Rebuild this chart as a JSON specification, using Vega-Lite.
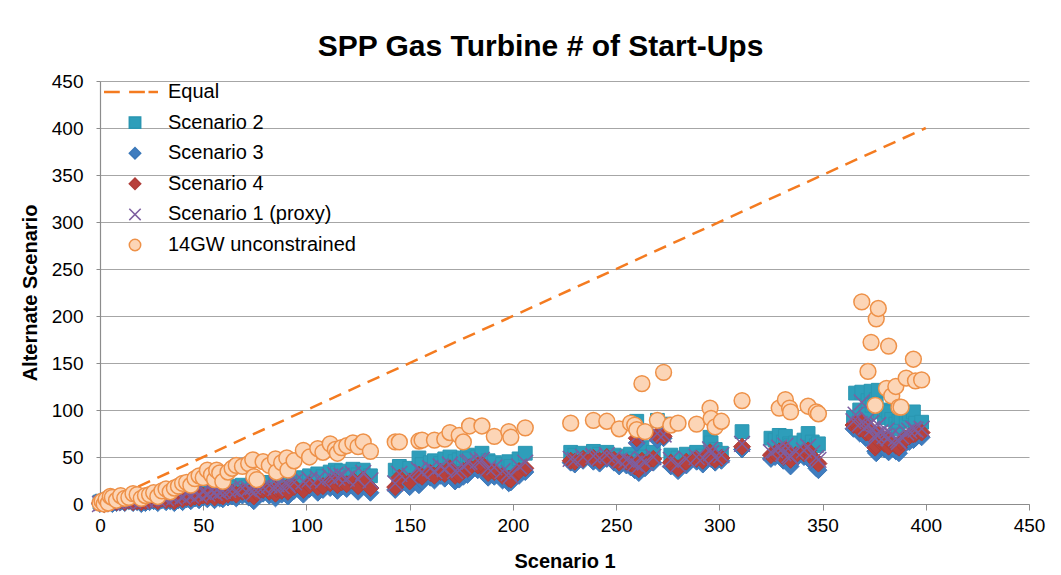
{
  "$schema": "https://vega.github.io/schema/vega-lite/v6.json",
  "width": 929,
  "height": 423,
  "autosize": {"type": "none"},
  "padding": {"left": 100, "top": 81, "right": 32, "bottom": 71},
  "background": "white",
  "title": {"text": "SPP Gas Turbine # of Start-Ups", "font": "Liberation Sans", "fontSize": 30, "fontWeight": "bold", "color": "#000000", "anchor": "middle", "dx": -24, "offset": 10},
  "config": {
    "view": {"stroke": null},
    "font": "Liberation Sans",
    "axis": {"labelFont": "Liberation Sans", "labelFontSize": 19, "labelColor": "#000000", "labelFlush": false, "labelOverlap": false, "titleFont": "Liberation Sans", "titleFontSize": 20, "titleFontWeight": "bold", "titleColor": "#000000", "domainColor": "#8c8c8c", "tickColor": "#8c8c8c", "gridColor": "#a6a6a6", "domainWidth": 1.2, "gridWidth": 1.2},
    "legend": {"orient": "top-left", "offset": 1, "padding": 0, "labelFont": "Liberation Sans", "labelFontSize": 20, "labelColor": "#000000", "labelLimit": 500, "symbolSize": 130, "symbolStrokeWidth": 1.5, "rowPadding": 10.6, "labelOffset": 23, "symbolOffset": 24}
  },
  "datasets": {
    "eq": [{"x": 0, "Equal": 0}, {"x": 400, "Equal": 400}],
    "pts": [
      {"x": 0, "Scenario 2": 2, "Scenario 3": 0, "Scenario 4": 1, "Scenario 1 (proxy)": 0, "14GW unconstrained": 1},
      {"x": 1, "Scenario 2": 3, "Scenario 3": 1, "Scenario 4": 2, "Scenario 1 (proxy)": 1, "14GW unconstrained": 3},
      {"x": 2, "Scenario 2": 1, "Scenario 3": 0, "Scenario 4": 0, "Scenario 1 (proxy)": 2, "14GW unconstrained": 0},
      {"x": 3, "Scenario 2": 4, "Scenario 3": 2, "Scenario 4": 3, "Scenario 1 (proxy)": 2, "14GW unconstrained": 5},
      {"x": 4, "Scenario 2": 2, "Scenario 3": 1, "Scenario 4": 1, "Scenario 1 (proxy)": 3, "14GW unconstrained": 1},
      {"x": 5, "Scenario 2": 5, "Scenario 3": 2, "Scenario 4": 3, "Scenario 1 (proxy)": 4, "14GW unconstrained": 8},
      {"x": 6, "Scenario 2": 3, "Scenario 3": 0, "Scenario 4": 2, "Scenario 1 (proxy)": 1, "14GW unconstrained": 7},
      {"x": 8, "Scenario 2": 4, "Scenario 3": 1, "Scenario 4": 2, "Scenario 1 (proxy)": 3, "14GW unconstrained": 4},
      {"x": 10, "Scenario 2": 6, "Scenario 3": 2, "Scenario 4": 4, "Scenario 1 (proxy)": 5, "14GW unconstrained": 9},
      {"x": 12, "Scenario 2": 5, "Scenario 3": 1, "Scenario 4": 2, "Scenario 1 (proxy)": 3, "14GW unconstrained": 6},
      {"x": 14, "Scenario 2": 6, "Scenario 3": 3, "Scenario 4": 4, "Scenario 1 (proxy)": 5, "14GW unconstrained": 7},
      {"x": 16, "Scenario 2": 4, "Scenario 3": 1, "Scenario 4": 2, "Scenario 1 (proxy)": 4, "14GW unconstrained": 11},
      {"x": 18, "Scenario 2": 7, "Scenario 3": 2, "Scenario 4": 3, "Scenario 1 (proxy)": 6, "14GW unconstrained": 10},
      {"x": 20, "Scenario 2": 5, "Scenario 3": 0, "Scenario 4": 2, "Scenario 1 (proxy)": 3, "14GW unconstrained": 6},
      {"x": 22, "Scenario 2": 8, "Scenario 3": 1, "Scenario 4": 3, "Scenario 1 (proxy)": 5, "14GW unconstrained": 9},
      {"x": 24, "Scenario 2": 6, "Scenario 3": 2, "Scenario 4": 4, "Scenario 1 (proxy)": 6, "14GW unconstrained": 10},
      {"x": 26, "Scenario 2": 9, "Scenario 3": 3, "Scenario 4": 5, "Scenario 1 (proxy)": 7, "14GW unconstrained": 12},
      {"x": 28, "Scenario 2": 7, "Scenario 3": 1, "Scenario 4": 3, "Scenario 1 (proxy)": 5, "14GW unconstrained": 8},
      {"x": 30, "Scenario 2": 10, "Scenario 3": 4, "Scenario 4": 6, "Scenario 1 (proxy)": 8, "14GW unconstrained": 14},
      {"x": 32, "Scenario 2": 8, "Scenario 3": 2, "Scenario 4": 4, "Scenario 1 (proxy)": 6, "14GW unconstrained": 16},
      {"x": 34, "Scenario 2": 11, "Scenario 3": 3, "Scenario 4": 5, "Scenario 1 (proxy)": 9, "14GW unconstrained": 13},
      {"x": 36, "Scenario 2": 9, "Scenario 3": 1, "Scenario 4": 3, "Scenario 1 (proxy)": 7, "14GW unconstrained": 17},
      {"x": 38, "Scenario 2": 12, "Scenario 3": 4, "Scenario 4": 6, "Scenario 1 (proxy)": 10, "14GW unconstrained": 19},
      {"x": 40, "Scenario 2": 10, "Scenario 3": 2, "Scenario 4": 5, "Scenario 1 (proxy)": 8, "14GW unconstrained": 22},
      {"x": 42, "Scenario 2": 13, "Scenario 3": 5, "Scenario 4": 7, "Scenario 1 (proxy)": 11, "14GW unconstrained": 23},
      {"x": 44, "Scenario 2": 11, "Scenario 3": 3, "Scenario 4": 6, "Scenario 1 (proxy)": 9, "14GW unconstrained": 20},
      {"x": 46, "Scenario 2": 14, "Scenario 3": 6, "Scenario 4": 8, "Scenario 1 (proxy)": 12, "14GW unconstrained": 27},
      {"x": 48, "Scenario 2": 12, "Scenario 3": 4, "Scenario 4": 7, "Scenario 1 (proxy)": 10, "14GW unconstrained": 30},
      {"x": 50, "Scenario 2": 15, "Scenario 3": 7, "Scenario 4": 9, "Scenario 1 (proxy)": 13, "14GW unconstrained": 28},
      {"x": 52, "Scenario 2": 13, "Scenario 3": 5, "Scenario 4": 8, "Scenario 1 (proxy)": 11, "14GW unconstrained": 36},
      {"x": 54, "Scenario 2": 16, "Scenario 3": 8, "Scenario 4": 10, "Scenario 1 (proxy)": 14, "14GW unconstrained": 31},
      {"x": 55.5, "Scenario 2": 14, "Scenario 3": 4, "Scenario 4": 7, "Scenario 1 (proxy)": 12, "14GW unconstrained": 26},
      {"x": 56.5, "Scenario 2": 17, "Scenario 3": 9, "Scenario 4": 11, "Scenario 1 (proxy)": 15, "14GW unconstrained": 36},
      {"x": 58, "Scenario 2": 15, "Scenario 3": 6, "Scenario 4": 9, "Scenario 1 (proxy)": 13, "14GW unconstrained": 33},
      {"x": 59.5, "Scenario 2": 18, "Scenario 3": 5, "Scenario 4": 8, "Scenario 1 (proxy)": 14, "14GW unconstrained": 24},
      {"x": 62, "Scenario 2": 16, "Scenario 3": 7, "Scenario 4": 10, "Scenario 1 (proxy)": 15, "14GW unconstrained": 34},
      {"x": 64, "Scenario 2": 19, "Scenario 3": 8, "Scenario 4": 12, "Scenario 1 (proxy)": 16, "14GW unconstrained": 38},
      {"x": 66, "Scenario 2": 17, "Scenario 3": 6, "Scenario 4": 10, "Scenario 1 (proxy)": 14, "14GW unconstrained": 41},
      {"x": 69, "Scenario 2": 20, "Scenario 3": 9, "Scenario 4": 13, "Scenario 1 (proxy)": 17, "14GW unconstrained": 40},
      {"x": 72, "Scenario 2": 18, "Scenario 3": 7, "Scenario 4": 11, "Scenario 1 (proxy)": 16, "14GW unconstrained": 43},
      {"x": 74, "Scenario 2": 21, "Scenario 3": 10, "Scenario 4": 14, "Scenario 1 (proxy)": 18, "14GW unconstrained": 47},
      {"x": 74.5, "Scenario 2": 16, "Scenario 3": 3, "Scenario 4": 8, "Scenario 1 (proxy)": 12, "14GW unconstrained": 29},
      {"x": 76, "Scenario 2": 22, "Scenario 3": 8, "Scenario 4": 12, "Scenario 1 (proxy)": 19, "14GW unconstrained": 26},
      {"x": 79, "Scenario 2": 20, "Scenario 3": 11, "Scenario 4": 15, "Scenario 1 (proxy)": 18, "14GW unconstrained": 45},
      {"x": 82, "Scenario 2": 23, "Scenario 3": 9, "Scenario 4": 13, "Scenario 1 (proxy)": 20, "14GW unconstrained": 41},
      {"x": 85, "Scenario 2": 21, "Scenario 3": 6, "Scenario 4": 11, "Scenario 1 (proxy)": 17, "14GW unconstrained": 48},
      {"x": 85.5, "Scenario 2": 24, "Scenario 3": 12, "Scenario 4": 16, "Scenario 1 (proxy)": 21, "14GW unconstrained": 34},
      {"x": 88, "Scenario 2": 22, "Scenario 3": 10, "Scenario 4": 14, "Scenario 1 (proxy)": 19, "14GW unconstrained": 44},
      {"x": 90.5, "Scenario 2": 25, "Scenario 3": 13, "Scenario 4": 17, "Scenario 1 (proxy)": 22, "14GW unconstrained": 49},
      {"x": 91, "Scenario 2": 23, "Scenario 3": 8, "Scenario 4": 13, "Scenario 1 (proxy)": 20, "14GW unconstrained": 36},
      {"x": 94, "Scenario 2": 26, "Scenario 3": 14, "Scenario 4": 18, "Scenario 1 (proxy)": 23, "14GW unconstrained": 46},
      {"x": 98.5, "Scenario 2": 28, "Scenario 3": 10, "Scenario 4": 15, "Scenario 1 (proxy)": 24, "14GW unconstrained": 57},
      {"x": 101.5, "Scenario 2": 30, "Scenario 3": 16, "Scenario 4": 20, "Scenario 1 (proxy)": 26, "14GW unconstrained": 50},
      {"x": 105.5, "Scenario 2": 32, "Scenario 3": 12, "Scenario 4": 18, "Scenario 1 (proxy)": 27, "14GW unconstrained": 59},
      {"x": 108, "Scenario 2": 29, "Scenario 3": 15, "Scenario 4": 19, "Scenario 1 (proxy)": 25, "14GW unconstrained": 55},
      {"x": 111.5, "Scenario 2": 34, "Scenario 3": 17, "Scenario 4": 22, "Scenario 1 (proxy)": 29, "14GW unconstrained": 64},
      {"x": 114, "Scenario 2": 36, "Scenario 3": 20, "Scenario 4": 24, "Scenario 1 (proxy)": 31, "14GW unconstrained": 58},
      {"x": 115, "Scenario 2": 33, "Scenario 3": 14, "Scenario 4": 20, "Scenario 1 (proxy)": 28, "14GW unconstrained": 54},
      {"x": 117, "Scenario 2": 35, "Scenario 3": 18, "Scenario 4": 23, "Scenario 1 (proxy)": 30, "14GW unconstrained": 60},
      {"x": 119.5, "Scenario 2": 30, "Scenario 3": 16, "Scenario 4": 21, "Scenario 1 (proxy)": 27, "14GW unconstrained": 62},
      {"x": 122.5, "Scenario 2": 37, "Scenario 3": 19, "Scenario 4": 25, "Scenario 1 (proxy)": 32, "14GW unconstrained": 65},
      {"x": 125, "Scenario 2": 31, "Scenario 3": 13, "Scenario 4": 19, "Scenario 1 (proxy)": 26, "14GW unconstrained": 61},
      {"x": 127.5, "Scenario 2": 36, "Scenario 3": 21, "Scenario 4": 26, "Scenario 1 (proxy)": 33, "14GW unconstrained": 66},
      {"x": 131, "Scenario 2": 30, "Scenario 3": 12, "Scenario 4": 17, "Scenario 1 (proxy)": 25, "14GW unconstrained": 56},
      {"x": 143, "Scenario 2": 36, "Scenario 3": 15, "Scenario 4": 18, "Scenario 1 (proxy)": 22, "14GW unconstrained": 66},
      {"x": 145, "Scenario 2": 40, "Scenario 3": 22, "Scenario 4": 28, "Scenario 1 (proxy)": 32, "14GW unconstrained": 66},
      {"x": 150, "Scenario 2": 38, "Scenario 3": 18, "Scenario 4": 24, "Scenario 1 (proxy)": 30, "14GW unconstrained": null},
      {"x": 154.5, "Scenario 2": 49, "Scenario 3": 20, "Scenario 4": 31, "Scenario 1 (proxy)": 36, "14GW unconstrained": 67},
      {"x": 156, "Scenario 2": 42, "Scenario 3": 24, "Scenario 4": 29, "Scenario 1 (proxy)": 34, "14GW unconstrained": 68},
      {"x": 160, "Scenario 2": 44, "Scenario 3": 28, "Scenario 4": 33, "Scenario 1 (proxy)": 38, "14GW unconstrained": null},
      {"x": 162, "Scenario 2": 46, "Scenario 3": 25, "Scenario 4": 30, "Scenario 1 (proxy)": 35, "14GW unconstrained": 68},
      {"x": 165, "Scenario 2": 43, "Scenario 3": 30, "Scenario 4": 34, "Scenario 1 (proxy)": 40, "14GW unconstrained": null},
      {"x": 167, "Scenario 2": 48, "Scenario 3": 27, "Scenario 4": 32, "Scenario 1 (proxy)": 37, "14GW unconstrained": 69},
      {"x": 169.5, "Scenario 2": 50, "Scenario 3": 32, "Scenario 4": 38, "Scenario 1 (proxy)": 42, "14GW unconstrained": 76},
      {"x": 172, "Scenario 2": 45, "Scenario 3": 24, "Scenario 4": 30, "Scenario 1 (proxy)": 35, "14GW unconstrained": null},
      {"x": 174, "Scenario 2": 47, "Scenario 3": 26, "Scenario 4": 31, "Scenario 1 (proxy)": 36, "14GW unconstrained": 73},
      {"x": 176, "Scenario 2": 49, "Scenario 3": 29, "Scenario 4": 35, "Scenario 1 (proxy)": 40, "14GW unconstrained": 66},
      {"x": 178, "Scenario 2": 52, "Scenario 3": 31, "Scenario 4": 37, "Scenario 1 (proxy)": 44, "14GW unconstrained": null},
      {"x": 179, "Scenario 2": 48, "Scenario 3": 34, "Scenario 4": 39, "Scenario 1 (proxy)": 45, "14GW unconstrained": 83},
      {"x": 183, "Scenario 2": 50, "Scenario 3": 36, "Scenario 4": 41, "Scenario 1 (proxy)": 46, "14GW unconstrained": null},
      {"x": 185, "Scenario 2": 54, "Scenario 3": 38, "Scenario 4": 42, "Scenario 1 (proxy)": 47, "14GW unconstrained": 83},
      {"x": 188, "Scenario 2": 46, "Scenario 3": 28, "Scenario 4": 33, "Scenario 1 (proxy)": 38, "14GW unconstrained": null},
      {"x": 191, "Scenario 2": 44, "Scenario 3": 29, "Scenario 4": 34, "Scenario 1 (proxy)": 39, "14GW unconstrained": 72},
      {"x": 195, "Scenario 2": 42, "Scenario 3": 25, "Scenario 4": 30, "Scenario 1 (proxy)": 35, "14GW unconstrained": null},
      {"x": 198, "Scenario 2": 45, "Scenario 3": 22, "Scenario 4": 27, "Scenario 1 (proxy)": 33, "14GW unconstrained": 77},
      {"x": 199, "Scenario 2": 40, "Scenario 3": 23, "Scenario 4": 26, "Scenario 1 (proxy)": 30, "14GW unconstrained": 71},
      {"x": 203, "Scenario 2": 48, "Scenario 3": 30, "Scenario 4": 35, "Scenario 1 (proxy)": 40, "14GW unconstrained": null},
      {"x": 206, "Scenario 2": 54, "Scenario 3": 34, "Scenario 4": 38, "Scenario 1 (proxy)": 44, "14GW unconstrained": 81},
      {"x": 228, "Scenario 2": 55, "Scenario 3": 44, "Scenario 4": 46, "Scenario 1 (proxy)": 48, "14GW unconstrained": 86},
      {"x": 230, "Scenario 2": 52, "Scenario 3": 42, "Scenario 4": 45, "Scenario 1 (proxy)": 47, "14GW unconstrained": null},
      {"x": 234, "Scenario 2": 54, "Scenario 3": 46, "Scenario 4": 48, "Scenario 1 (proxy)": 50, "14GW unconstrained": null},
      {"x": 239, "Scenario 2": 56, "Scenario 3": 45, "Scenario 4": 49, "Scenario 1 (proxy)": 51, "14GW unconstrained": 89},
      {"x": 242, "Scenario 2": 53, "Scenario 3": 43, "Scenario 4": 46, "Scenario 1 (proxy)": 49, "14GW unconstrained": null},
      {"x": 245.5, "Scenario 2": 55, "Scenario 3": 48, "Scenario 4": 50, "Scenario 1 (proxy)": 52, "14GW unconstrained": 88},
      {"x": 249, "Scenario 2": 52, "Scenario 3": 44, "Scenario 4": 47, "Scenario 1 (proxy)": 49, "14GW unconstrained": null},
      {"x": 251.5, "Scenario 2": 50, "Scenario 3": 40, "Scenario 4": 44, "Scenario 1 (proxy)": 46, "14GW unconstrained": 80},
      {"x": 255, "Scenario 2": 51, "Scenario 3": 41, "Scenario 4": 45, "Scenario 1 (proxy)": 47, "14GW unconstrained": null},
      {"x": 257, "Scenario 2": 53, "Scenario 3": 39, "Scenario 4": 43, "Scenario 1 (proxy)": 45, "14GW unconstrained": 86},
      {"x": 259, "Scenario 2": 48, "Scenario 3": 36, "Scenario 4": 40, "Scenario 1 (proxy)": 43, "14GW unconstrained": 84},
      {"x": 260, "Scenario 2": 88, "Scenario 3": 65, "Scenario 4": 70, "Scenario 1 (proxy)": 72, "14GW unconstrained": 79},
      {"x": 261, "Scenario 2": 47, "Scenario 3": 33, "Scenario 4": 37, "Scenario 1 (proxy)": 40, "14GW unconstrained": null},
      {"x": 262.5, "Scenario 2": 60, "Scenario 3": 42, "Scenario 4": 46, "Scenario 1 (proxy)": 48, "14GW unconstrained": 128},
      {"x": 264, "Scenario 2": 50, "Scenario 3": 38, "Scenario 4": 42, "Scenario 1 (proxy)": 44, "14GW unconstrained": 77},
      {"x": 268, "Scenario 2": 55, "Scenario 3": 44, "Scenario 4": 48, "Scenario 1 (proxy)": 50, "14GW unconstrained": null},
      {"x": 270, "Scenario 2": 89, "Scenario 3": 68, "Scenario 4": 73, "Scenario 1 (proxy)": 75, "14GW unconstrained": 89},
      {"x": 273, "Scenario 2": 85, "Scenario 3": 70, "Scenario 4": 72, "Scenario 1 (proxy)": 74, "14GW unconstrained": 140},
      {"x": 276.5, "Scenario 2": 52, "Scenario 3": 40, "Scenario 4": 44, "Scenario 1 (proxy)": 47, "14GW unconstrained": 84},
      {"x": 280, "Scenario 2": 49, "Scenario 3": 35, "Scenario 4": 38, "Scenario 1 (proxy)": 42, "14GW unconstrained": 86},
      {"x": 284, "Scenario 2": 53, "Scenario 3": 41, "Scenario 4": 45, "Scenario 1 (proxy)": 48, "14GW unconstrained": null},
      {"x": 289, "Scenario 2": 55, "Scenario 3": 45, "Scenario 4": 48, "Scenario 1 (proxy)": 50, "14GW unconstrained": 85},
      {"x": 292, "Scenario 2": 51, "Scenario 3": 42, "Scenario 4": 46, "Scenario 1 (proxy)": 49, "14GW unconstrained": null},
      {"x": 295.5, "Scenario 2": 71, "Scenario 3": 52, "Scenario 4": 55, "Scenario 1 (proxy)": 58, "14GW unconstrained": 102},
      {"x": 296, "Scenario 2": 65, "Scenario 3": 48, "Scenario 4": 50, "Scenario 1 (proxy)": 54, "14GW unconstrained": 91},
      {"x": 298, "Scenario 2": 58, "Scenario 3": 44, "Scenario 4": 47, "Scenario 1 (proxy)": 50, "14GW unconstrained": 82},
      {"x": 301, "Scenario 2": 54, "Scenario 3": 46, "Scenario 4": 49, "Scenario 1 (proxy)": 52, "14GW unconstrained": 88},
      {"x": 311, "Scenario 2": 77, "Scenario 3": 58, "Scenario 4": 61, "Scenario 1 (proxy)": 64, "14GW unconstrained": 110},
      {"x": 325, "Scenario 2": 70, "Scenario 3": 48, "Scenario 4": 52, "Scenario 1 (proxy)": 55, "14GW unconstrained": null},
      {"x": 327, "Scenario 2": 68, "Scenario 3": 50, "Scenario 4": 54, "Scenario 1 (proxy)": 57, "14GW unconstrained": null},
      {"x": 329, "Scenario 2": 73, "Scenario 3": 52, "Scenario 4": 56, "Scenario 1 (proxy)": 60, "14GW unconstrained": 102},
      {"x": 331, "Scenario 2": 66, "Scenario 3": 46, "Scenario 4": 50, "Scenario 1 (proxy)": 54, "14GW unconstrained": null},
      {"x": 332, "Scenario 2": 72, "Scenario 3": 55, "Scenario 4": 58, "Scenario 1 (proxy)": 62, "14GW unconstrained": 111},
      {"x": 334, "Scenario 2": 64, "Scenario 3": 45, "Scenario 4": 49, "Scenario 1 (proxy)": 52, "14GW unconstrained": 102},
      {"x": 334.5, "Scenario 2": 62, "Scenario 3": 40, "Scenario 4": 47, "Scenario 1 (proxy)": 50, "14GW unconstrained": 98},
      {"x": 337, "Scenario 2": 65, "Scenario 3": 48, "Scenario 4": 52, "Scenario 1 (proxy)": 56, "14GW unconstrained": null},
      {"x": 341, "Scenario 2": 68, "Scenario 3": 50, "Scenario 4": 54, "Scenario 1 (proxy)": 57, "14GW unconstrained": null},
      {"x": 343, "Scenario 2": 75, "Scenario 3": 53, "Scenario 4": 57, "Scenario 1 (proxy)": 61, "14GW unconstrained": 104},
      {"x": 345, "Scenario 2": 66, "Scenario 3": 44, "Scenario 4": 50, "Scenario 1 (proxy)": 54, "14GW unconstrained": null},
      {"x": 347, "Scenario 2": 62, "Scenario 3": 38, "Scenario 4": 45, "Scenario 1 (proxy)": 49, "14GW unconstrained": 98},
      {"x": 348, "Scenario 2": 64, "Scenario 3": 36, "Scenario 4": 43, "Scenario 1 (proxy)": 47, "14GW unconstrained": 96},
      {"x": 365, "Scenario 2": 92, "Scenario 3": 80, "Scenario 4": 84, "Scenario 1 (proxy)": 88, "14GW unconstrained": null},
      {"x": 366, "Scenario 2": 118, "Scenario 3": 82, "Scenario 4": 86, "Scenario 1 (proxy)": 95, "14GW unconstrained": null},
      {"x": 368, "Scenario 2": 100, "Scenario 3": 75, "Scenario 4": 80, "Scenario 1 (proxy)": 85, "14GW unconstrained": null},
      {"x": 369, "Scenario 2": 119, "Scenario 3": 84, "Scenario 4": 88, "Scenario 1 (proxy)": 108, "14GW unconstrained": 215},
      {"x": 371, "Scenario 2": 95, "Scenario 3": 70, "Scenario 4": 76, "Scenario 1 (proxy)": 82, "14GW unconstrained": null},
      {"x": 372, "Scenario 2": 110, "Scenario 3": 78, "Scenario 4": 82, "Scenario 1 (proxy)": 90, "14GW unconstrained": 141},
      {"x": 373.5, "Scenario 2": 120, "Scenario 3": 72, "Scenario 4": 78, "Scenario 1 (proxy)": 86, "14GW unconstrained": 172},
      {"x": 374, "Scenario 2": 105, "Scenario 3": 66, "Scenario 4": 72, "Scenario 1 (proxy)": 80, "14GW unconstrained": null},
      {"x": 375.5, "Scenario 2": 108, "Scenario 3": 56, "Scenario 4": 60, "Scenario 1 (proxy)": 70, "14GW unconstrained": 105},
      {"x": 376, "Scenario 2": 111, "Scenario 3": 54, "Scenario 4": 62, "Scenario 1 (proxy)": 74, "14GW unconstrained": 197},
      {"x": 377, "Scenario 2": 121, "Scenario 3": 68, "Scenario 4": 74, "Scenario 1 (proxy)": 84, "14GW unconstrained": 208},
      {"x": 378, "Scenario 2": 98, "Scenario 3": 60, "Scenario 4": 66, "Scenario 1 (proxy)": 76, "14GW unconstrained": null},
      {"x": 380, "Scenario 2": 92, "Scenario 3": 58, "Scenario 4": 64, "Scenario 1 (proxy)": 72, "14GW unconstrained": null},
      {"x": 381, "Scenario 2": 100, "Scenario 3": 62, "Scenario 4": 68, "Scenario 1 (proxy)": 78, "14GW unconstrained": 123},
      {"x": 382, "Scenario 2": 98, "Scenario 3": 55, "Scenario 4": 61, "Scenario 1 (proxy)": 70, "14GW unconstrained": 168},
      {"x": 383.5, "Scenario 2": 90, "Scenario 3": 60, "Scenario 4": 65, "Scenario 1 (proxy)": 74, "14GW unconstrained": 115},
      {"x": 385.5, "Scenario 2": 85, "Scenario 3": 56, "Scenario 4": 62, "Scenario 1 (proxy)": 70, "14GW unconstrained": 125},
      {"x": 386.5, "Scenario 2": 80, "Scenario 3": 58, "Scenario 4": 61, "Scenario 1 (proxy)": 68, "14GW unconstrained": null},
      {"x": 387, "Scenario 2": 88, "Scenario 3": 54, "Scenario 4": 60, "Scenario 1 (proxy)": 66, "14GW unconstrained": 103},
      {"x": 388, "Scenario 2": 92, "Scenario 3": 62, "Scenario 4": 66, "Scenario 1 (proxy)": 72, "14GW unconstrained": 103},
      {"x": 390.5, "Scenario 2": 89, "Scenario 3": 65, "Scenario 4": 70, "Scenario 1 (proxy)": 76, "14GW unconstrained": 134},
      {"x": 392, "Scenario 2": 96, "Scenario 3": 66, "Scenario 4": 72, "Scenario 1 (proxy)": 78, "14GW unconstrained": null},
      {"x": 394, "Scenario 2": 98, "Scenario 3": 68, "Scenario 4": 74, "Scenario 1 (proxy)": 80, "14GW unconstrained": 154},
      {"x": 395, "Scenario 2": 86, "Scenario 3": 70, "Scenario 4": 75, "Scenario 1 (proxy)": 79, "14GW unconstrained": 131},
      {"x": 398, "Scenario 2": 87, "Scenario 3": 71, "Scenario 4": 76, "Scenario 1 (proxy)": 80, "14GW unconstrained": 132}
    ]
  },
  "encoding": {
    "x": {"field": "x", "type": "quantitative", "title": "Scenario 1", "scale": {"domain": [0, 450], "nice": false, "zero": false}, "axis": {"values": [0, 50, 100, 150, 200, 250, 300, 350, 400, 450], "grid": false, "tickSize": 6, "labelPadding": 6, "titlePadding": 16}},
    "y": {"field": "y", "type": "quantitative", "title": "Alternate Scenario", "scale": {"domain": [0, 450], "nice": false, "zero": false}, "axis": {"values": [0, 50, 100, 150, 200, 250, 300, 350, 400, 450], "grid": true, "tickSize": 4, "labelPadding": 13, "titlePadding": 11}}
  },
  "layer": [
    {
      "data": {"name": "eq"},
      "transform": [{"fold": ["Equal"], "as": ["series", "y"]}],
      "mark": {"type": "line", "strokeDash": [13, 8], "strokeWidth": 2.5},
      "encoding": {
        "stroke": {"field": "series", "type": "nominal", "title": null, "scale": {"domain": ["Equal", "Scenario 2", "Scenario 3", "Scenario 4", "Scenario 1 (proxy)", "14GW unconstrained"], "range": ["#F47B20", "#2A96B1", "#3A77B8", "#AF3D38", "#7D5FA0", "#EE9148"]}}
      }
    },
    {
      "data": {"name": "pts"},
      "transform": [{"fold": ["Scenario 2"], "as": ["series", "y"]}],
      "mark": {"type": "point", "filled": true, "opacity": 1, "size": 190, "strokeWidth": 1},
      "encoding": {
        "fill": {"field": "series", "type": "nominal", "title": null, "scale": {"domain": ["Equal", "Scenario 2", "Scenario 3", "Scenario 4", "Scenario 1 (proxy)", "14GW unconstrained"], "range": ["#F47B20", "#2E9EBA", "#3F7DBF", "#B8413C", "#7D5FA0", "#FCD5B6"]}},
        "stroke": {"field": "series", "type": "nominal", "title": null},
        "shape": {"field": "series", "type": "nominal", "title": null, "scale": {"domain": ["Equal", "Scenario 2", "Scenario 3", "Scenario 4", "Scenario 1 (proxy)", "14GW unconstrained"], "range": ["M-5.3,-0.1H-2.8V0.1H-5.3ZM-0.9,-0.1H1.6V0.1H-0.9ZM2.5,-0.1H3.9V0.1H2.5Z", "square", "diamond", "diamond", "M-1,-1L1,1M-1,1L1,-1", "circle"]}}
      }
    },
    {
      "data": {"name": "pts"},
      "transform": [{"fold": ["Scenario 3"], "as": ["series", "y"]}],
      "mark": {"type": "point", "filled": true, "opacity": 1, "size": 290, "strokeWidth": 1},
      "encoding": {
        "fill": {"field": "series", "type": "nominal", "title": null},
        "stroke": {"field": "series", "type": "nominal", "title": null},
        "shape": {"field": "series", "type": "nominal", "title": null}
      }
    },
    {
      "data": {"name": "pts"},
      "transform": [{"fold": ["Scenario 4"], "as": ["series", "y"]}],
      "mark": {"type": "point", "filled": true, "opacity": 1, "size": 290, "strokeWidth": 1},
      "encoding": {
        "fill": {"field": "series", "type": "nominal", "title": null},
        "stroke": {"field": "series", "type": "nominal", "title": null},
        "shape": {"field": "series", "type": "nominal", "title": null}
      }
    },
    {
      "data": {"name": "pts"},
      "transform": [{"fold": ["Scenario 1 (proxy)"], "as": ["series", "y"]}],
      "mark": {"type": "point", "filled": true, "opacity": 1, "size": 250, "strokeWidth": 1.5},
      "encoding": {
        "fill": {"field": "series", "type": "nominal", "title": null},
        "stroke": {"field": "series", "type": "nominal", "title": null},
        "shape": {"field": "series", "type": "nominal", "title": null}
      }
    },
    {
      "data": {"name": "pts"},
      "transform": [{"fold": ["14GW unconstrained"], "as": ["series", "y"]}],
      "mark": {"type": "point", "filled": true, "opacity": 1, "size": 250, "strokeWidth": 1.5},
      "encoding": {
        "fill": {"field": "series", "type": "nominal", "title": null},
        "stroke": {"field": "series", "type": "nominal", "title": null},
        "shape": {"field": "series", "type": "nominal", "title": null}
      }
    }
  ]
}
